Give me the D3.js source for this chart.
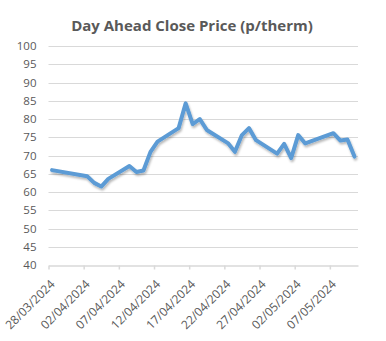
<!DOCTYPE html>
<html>
<head>
<meta charset="utf-8">
<script src="https://cdn.jsdelivr.net/npm/d3@7"></script>
<style>
  html, body { margin: 0; padding: 0; background: #ffffff; }
  svg { display: block; }
</style>
</head>
<body>
<div id="chart"></div>
<script>
// Day-ahead close prices, p/therm (UK trading days)
const dates = [
  "28/03/2024", "02/04/2024", "03/04/2024", "04/04/2024", "05/04/2024",
  "08/04/2024", "09/04/2024", "10/04/2024", "11/04/2024", "12/04/2024",
  "15/04/2024", "16/04/2024", "17/04/2024", "18/04/2024", "19/04/2024",
  "22/04/2024", "23/04/2024", "24/04/2024", "25/04/2024", "26/04/2024",
  "29/04/2024", "30/04/2024", "01/05/2024", "02/05/2024", "03/05/2024",
  "07/05/2024", "08/05/2024", "09/05/2024", "10/05/2024"
];
const prices = [
  66.0, 64.3, 62.5, 61.5, 63.6,
  67.1, 65.5, 65.9, 71.0, 73.8,
  77.5, 84.3, 78.6, 80.0, 77.0,
  73.4, 71.0, 75.6, 77.5, 74.2,
  70.5, 73.2, 69.3, 75.6, 73.3,
  76.1, 74.1, 74.4, 69.7
];
const yTicks = [40, 45, 50, 55, 60, 65, 70, 75, 80, 85, 90, 95, 100];
const xTickLabels = [
  "28/03/2024", "02/04/2024", "07/04/2024", "12/04/2024", "17/04/2024",
  "22/04/2024", "27/04/2024", "02/05/2024", "07/05/2024"
];
const axisStart = "28/03/2024";
const axisEnd = "11/05/2024";
const title = "Day Ahead Close Price (p/therm)";

const W = 386, H = 341;
const margin = { left: 48.5, right: 28, top: 46, bottom: 76 };
const parse = d3.timeParse("%d/%m/%Y");
const HALF_DAY = 12 * 3600 * 1000;

const svg = d3.select("#chart").append("svg")
  .attr("width", W).attr("height", H)
  .style("font-family", "'Open Sans', sans-serif");

const defs = svg.append("defs");
const shadow = defs.append("filter").attr("id", "lineShadow")
  .attr("x", "-10%").attr("y", "-10%").attr("width", "120%").attr("height", "130%");
shadow.append("feDropShadow")
  .attr("dx", 1).attr("dy", 2).attr("stdDeviation", 1.3)
  .attr("flood-color", "#000").attr("flood-opacity", 0.28);

const x = d3.scaleTime()
  .domain([parse(axisStart), parse(axisEnd)])
  .range([margin.left, W - margin.right]);
const y = d3.scaleLinear()
  .domain([40, 100])
  .range([H - margin.bottom, margin.top]);

// Title
svg.append("text")
  .attr("x", 192).attr("y", 31)
  .attr("text-anchor", "middle")
  .attr("fill", "#595959")
  .attr("font-size", 15)
  .attr("font-weight", "bold")
  .text(title);

// Horizontal gridlines
svg.append("g")
  .selectAll("line")
  .data(yTicks.filter(v => v > 40))
  .join("line")
  .attr("x1", margin.left).attr("x2", W - margin.right)
  .attr("y1", d => Math.round(y(d)) + 0.5).attr("y2", d => Math.round(y(d)) + 0.5)
  .attr("stroke", "#d9d9d9").attr("stroke-width", 1);

// Y axis labels
const yAxis = d3.axisLeft(y).tickValues(yTicks).tickSize(0).tickPadding(12);
const gy = svg.append("g")
  .attr("transform", `translate(${margin.left},0)`)
  .call(yAxis);
gy.select(".domain").remove();
gy.selectAll("text")
  .attr("fill", "#595959")
  .attr("font-size", 11.5)
  .attr("font-family", "'Open Sans', sans-serif");

// X axis
const xAxis = d3.axisBottom(x)
  .tickValues(xTickLabels.map(parse))
  .tickFormat(d3.timeFormat("%d/%m/%Y"))
  .tickSize(4)
  .tickSizeOuter(0);
const gx = svg.append("g")
  .attr("transform", `translate(0,${Math.round(y(40)) + 0.5})`)
  .call(xAxis);
gx.select(".domain").attr("stroke", "#d9d9d9").attr("stroke-width", 1.5);
gx.selectAll(".tick line").attr("stroke", "#d9d9d9").attr("stroke-width", 1.5);
gx.selectAll("text")
  .attr("fill", "#595959")
  .attr("font-size", 12)
  .attr("font-family", "'Open Sans', sans-serif")
  .attr("text-anchor", "end")
  .attr("x", 0).attr("y", 0).attr("dx", 0).attr("dy", 0)
  .attr("transform", "translate(6.5,19.5) rotate(-45)");

// Price line (points sit in the middle of each day)
const data = dates.map((d, i) => ({ date: parse(d), value: prices[i] }));
const line = d3.line()
  .x(d => x(new Date(d.date.getTime() + HALF_DAY)))
  .y(d => y(d.value));

svg.append("path")
  .datum(data)
  .attr("d", line)
  .attr("fill", "none")
  .attr("stroke", "#5b9bd5")
  .attr("stroke-width", 4)
  .attr("stroke-linejoin", "round")
  .attr("stroke-linecap", "round")
  .attr("filter", "url(#lineShadow)");
</script>
</body>
</html>
